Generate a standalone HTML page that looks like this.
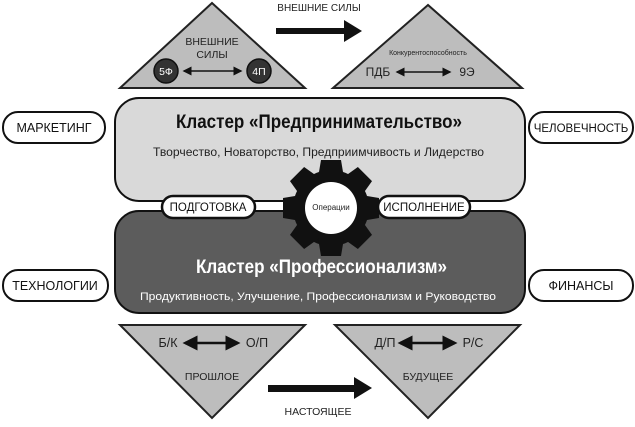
<!DOCTYPE html>
<html><head><meta charset="utf-8"><style>
body{margin:0;background:#fff}
svg text{font-family:"Liberation Sans","DejaVu Sans",sans-serif;}
</style></head><body>
<svg width="635" height="422" viewBox="0 0 635 422" xmlns="http://www.w3.org/2000/svg">
<defs>
<marker id="ah" markerWidth="6" markerHeight="6" refX="5" refY="3" orient="auto-start-reverse"><path d="M0,0 L6,3 L0,6 z" fill="#111"/></marker>
</defs>
<polygon points="212,3 120,88 305,88" fill="#bdbdbd" stroke="#222" stroke-width="2"/>
<polygon points="428,5 333,88 522,88" fill="#bdbdbd" stroke="#222" stroke-width="2"/>
<text x="212" y="45" font-size="10.5" text-anchor="middle" fill="#222">ВНЕШНИЕ</text>
<text x="212" y="58" font-size="10.5" text-anchor="middle" fill="#222">СИЛЫ</text>
<circle cx="166" cy="71" r="12" fill="#333" stroke="#111" stroke-width="1.5"/>
<circle cx="259" cy="71" r="12" fill="#333" stroke="#111" stroke-width="1.5"/>
<text x="166" y="75" font-size="10.5" text-anchor="middle" fill="#fff">5Ф</text>
<text x="259" y="75" font-size="10.5" text-anchor="middle" fill="#fff">4П</text>
<line x1="184" y1="71" x2="241" y2="71" stroke="#111" stroke-width="1.5" marker-start="url(#ah)" marker-end="url(#ah)"/>
<text x="428" y="55" font-size="7" text-anchor="middle" fill="#222">Конкурентоспособность</text>
<text x="378" y="76" font-size="12" text-anchor="middle" fill="#222">ПДБ</text>
<text x="467" y="76" font-size="12" text-anchor="middle" fill="#222">9Э</text>
<line x1="397" y1="72" x2="450" y2="72" stroke="#111" stroke-width="1.5" marker-start="url(#ah)" marker-end="url(#ah)"/>
<text x="319" y="11" font-size="10" text-anchor="middle" fill="#222">ВНЕШНИЕ СИЛЫ</text>
<rect x="276" y="28" width="70" height="6" fill="#111"/>
<polygon points="344,20 362,31 344,42" fill="#111"/>
<rect x="115" y="98" width="410" height="103" rx="24" fill="#d9d9d9" stroke="#111" stroke-width="2"/>
<rect x="115" y="211" width="410" height="102" rx="24" fill="#5c5c5c" stroke="#111" stroke-width="2"/>
<text x="176" y="128" font-size="19" textLength="286" lengthAdjust="spacingAndGlyphs" fill="#111" font-weight="bold">Кластер «Предпринимательство»</text>
<text x="153" y="156" font-size="11.5" textLength="331" lengthAdjust="spacingAndGlyphs" fill="#222">Творчество, Новаторство, Предприимчивость и Лидерство</text>
<text x="196" y="273" font-size="19" textLength="251" lengthAdjust="spacingAndGlyphs" fill="#fff" font-weight="bold">Кластер «Профессионализм»</text>
<text x="140" y="300" font-size="11" textLength="356" lengthAdjust="spacingAndGlyphs" fill="#fff">Продуктивность, Улучшение, Профессионализм и Руководство</text>
<g transform="translate(331,208)" fill="#111">
<circle r="38"/>
<g id="t"><polygon points="-10,-48 10,-48 13,-30 -13,-30"/></g>
<use href="#t" transform="rotate(45)"/>
<use href="#t" transform="rotate(90)"/>
<use href="#t" transform="rotate(135)"/>
<use href="#t" transform="rotate(180)"/>
<use href="#t" transform="rotate(225)"/>
<use href="#t" transform="rotate(270)"/>
<use href="#t" transform="rotate(315)"/>
<circle r="26" fill="#fff"/>
</g>
<text x="331" y="210" font-size="8" text-anchor="middle" fill="#222">Операции</text>
<rect x="162" y="196" width="93" height="22" rx="11" fill="#fff" stroke="#111" stroke-width="2.5"/>
<text x="208" y="211" font-size="11.5" text-anchor="middle" fill="#111">ПОДГОТОВКА</text>
<rect x="378" y="196" width="92" height="22" rx="11" fill="#fff" stroke="#111" stroke-width="2.5"/>
<text x="424" y="211" font-size="11.5" text-anchor="middle" fill="#111">ИСПОЛНЕНИЕ</text>
<rect x="3" y="112" width="102" height="31" rx="15" fill="#fff" stroke="#111" stroke-width="2"/>
<text x="54" y="132" font-size="12.5" text-anchor="middle" fill="#111">МАРКЕТИНГ</text>
<rect x="529" y="112" width="104" height="31" rx="15" fill="#fff" stroke="#111" stroke-width="2"/>
<text x="581" y="132" font-size="11.5" text-anchor="middle" fill="#111">ЧЕЛОВЕЧНОСТЬ</text>
<rect x="3" y="270" width="105" height="31" rx="15" fill="#fff" stroke="#111" stroke-width="2"/>
<text x="55" y="290" font-size="12.5" text-anchor="middle" fill="#111">ТЕХНОЛОГИИ</text>
<rect x="529" y="270" width="104" height="31" rx="15" fill="#fff" stroke="#111" stroke-width="2"/>
<text x="581" y="290" font-size="12.5" text-anchor="middle" fill="#111">ФИНАНСЫ</text>
<polygon points="120,325 305,325 212,418" fill="#bdbdbd" stroke="#222" stroke-width="2"/>
<polygon points="335,325 520,325 428,418" fill="#bdbdbd" stroke="#222" stroke-width="2"/>
<text x="168" y="347" font-size="12.5" text-anchor="middle" fill="#222">Б/К</text>
<text x="257" y="347" font-size="12.5" text-anchor="middle" fill="#222">О/П</text>
<line x1="185" y1="343" x2="238" y2="343" stroke="#111" stroke-width="2.5" marker-start="url(#ah)" marker-end="url(#ah)"/>
<text x="212" y="380" font-size="10.5" text-anchor="middle" fill="#222">ПРОШЛОЕ</text>
<text x="385" y="347" font-size="12.5" text-anchor="middle" fill="#222">Д/П</text>
<text x="473" y="347" font-size="12.5" text-anchor="middle" fill="#222">Р/С</text>
<line x1="400" y1="343" x2="455" y2="343" stroke="#111" stroke-width="2.5" marker-start="url(#ah)" marker-end="url(#ah)"/>
<text x="428" y="380" font-size="10.5" text-anchor="middle" fill="#222">БУДУЩЕЕ</text>
<rect x="268" y="385" width="88" height="7" fill="#111"/>
<polygon points="354,377 372,388 354,399" fill="#111"/>
<text x="318" y="415" font-size="10.5" text-anchor="middle" fill="#222">НАСТОЯЩЕЕ</text>
</svg>
</body></html>
